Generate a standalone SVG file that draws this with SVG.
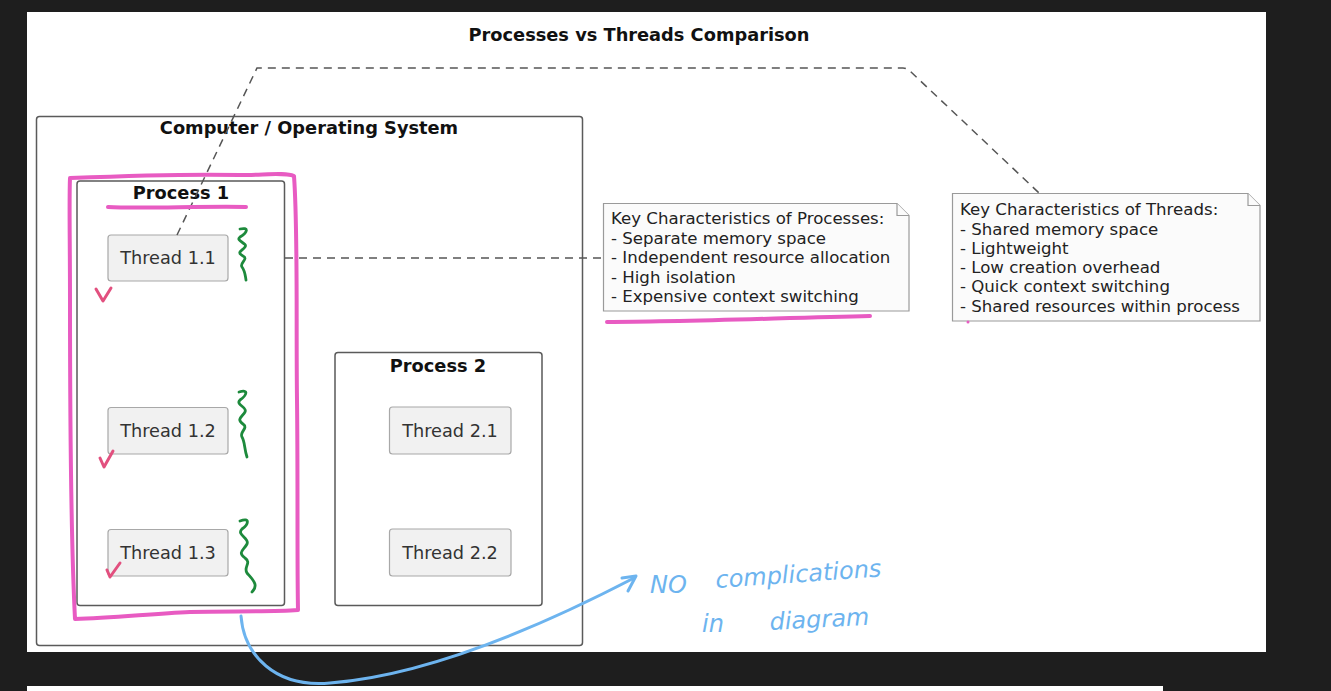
<svg xmlns="http://www.w3.org/2000/svg" width="1331" height="691" viewBox="0 0 1331 691">
<style>
.lbl{font-family:"DejaVu Sans",sans-serif;fill:#111;font-weight:bold;text-anchor:middle;font-size:17.8px}
.box{fill:none;stroke:#5a5a5a;stroke-width:1.5}
.thr{fill:#f1f1f1;stroke:#a8a8a8;stroke-width:1.2}
.ttxt{font-family:"DejaVu Sans",sans-serif;font-size:17.7px;fill:#333;text-anchor:middle}
.note{fill:#fbfbfb;stroke:#9a9a9a;stroke-width:1.2}
.ntxt{font-family:"DejaVu Sans",sans-serif;font-size:16.6px;fill:#222}
.dash{fill:none;stroke:#555;stroke-width:1.5;stroke-dasharray:8 6}
.pink{fill:none;stroke:#e85bc2;stroke-width:4;stroke-linecap:round;stroke-linejoin:round}
.chk{fill:none;stroke:#e2507f;stroke-width:3;stroke-linecap:round;stroke-linejoin:round}
.grn{fill:none;stroke:#1d8a3c;stroke-width:2.8;stroke-linecap:round;stroke-linejoin:round}
.blue{fill:none;stroke:#6db4ef;stroke-width:3;stroke-linecap:round;stroke-linejoin:round}
.hand{font-family:"DejaVu Sans",sans-serif;font-style:italic;fill:#6db4ef;font-size:24px}
</style>
<rect x="0" y="0" width="1331" height="691" fill="#1e1e1e"/>
<rect x="27" y="12" width="1239" height="640" fill="#ffffff"/>
<rect x="27" y="686" width="1136" height="5" fill="#ffffff"/>

<text class="lbl" x="639" y="41">Processes vs Threads Comparison</text>

<g id="computer">
<rect class="box" x="36.5" y="116.5" width="546" height="529" rx="3"/>
<text class="lbl" x="309" y="134">Computer / Operating System</text>
</g>

<g id="process1">
<rect class="box" x="77" y="181" width="207.5" height="424.5" rx="3"/>
<text class="lbl" x="181" y="199">Process 1</text>
</g>
<g id="thread11"><rect class="thr" x="108" y="235" width="120" height="46" rx="3"/><text class="ttxt" x="168" y="264">Thread 1.1</text></g>
<g id="thread12"><rect class="thr" x="108" y="407.5" width="120" height="46.5" rx="3"/><text class="ttxt" x="168" y="437">Thread 1.2</text></g>
<g id="thread13"><rect class="thr" x="108" y="529.5" width="120" height="46.5" rx="3"/><text class="ttxt" x="168" y="559">Thread 1.3</text></g>

<g id="process2">
<rect class="box" x="335" y="352.5" width="207" height="253" rx="3"/>
<text class="lbl" x="438" y="372">Process 2</text>
</g>
<g id="thread21"><rect class="thr" x="389.5" y="407" width="121.5" height="47" rx="3"/><text class="ttxt" x="450" y="437">Thread 2.1</text></g>
<g id="thread22"><rect class="thr" x="389.5" y="529" width="121.5" height="47" rx="3"/><text class="ttxt" x="450" y="559">Thread 2.2</text></g>

<g id="noteProcesses">
<path class="note" d="M603.5,203.5 H897 L909,215.5 V311 H603.5 Z"/>
<path class="note" d="M897,203.5 V215.5 H909" fill="none"/>
<text class="ntxt" x="611" y="224">Key Characteristics of Processes:</text>
<text class="ntxt" x="611" y="243.5">- Separate memory space</text>
<text class="ntxt" x="611" y="263">- Independent resource allocation</text>
<text class="ntxt" x="611" y="282.5">- High isolation</text>
<text class="ntxt" x="611" y="302">- Expensive context switching</text>
</g>

<g id="noteThreads">
<path class="note" d="M952.5,193.5 H1248 L1260,205.5 V321 H952.5 Z"/>
<path class="note" d="M1248,193.5 V205.5 H1260" fill="none"/>
<text class="ntxt" x="960" y="215">Key Characteristics of Threads:</text>
<text class="ntxt" x="960" y="234.5">- Shared memory space</text>
<text class="ntxt" x="960" y="254">- Lightweight</text>
<text class="ntxt" x="960" y="273">- Low creation overhead</text>
<text class="ntxt" x="960" y="292">- Quick context switching</text>
<text class="ntxt" x="960" y="311.5">- Shared resources within process</text>
</g>

<g id="connectors">
<path class="dash" d="M285,258 H603"/>
<path class="dash" d="M177,235 L257,68 H903 Q907,68 910,71 L1039,193"/>
</g>

<g id="annotations">
<path class="pink" d="M70,178 C120,176 200,174 240,175 C265,175 285,172 294,176 C298,230 296,320 297,400 C298,480 297,560 298,610 C270,612 230,611 190,612 C150,614 110,618 75,619 C71,540 70,420 70,300 C70,240 69,200 70,178"/>
<path class="pink" d="M108,207 C140,209 200,206 246,207"/>
<path class="pink" d="M607,322 C680,322 780,318 870,316"/>
<circle cx="968" cy="322" r="1.5" fill="#e85bc2"/>
<path class="chk" d="M96,289 L103,301 L111,288"/>
<path class="chk" d="M100,458 L104,467 L113,451"/>
<path class="chk" d="M107,570 L110,577 L120,563"/>
<path class="grn" d="M240,229 C249,227 248,232 240,237 C235,241 248,243 245,247 C242,251 236,252 243,256 C249,259 239,263 242,267 C245,271 245,274 246,280"/>
<path class="grn" d="M239,392 C249,389 247,395 240,400 C235,405 248,407 245,412 C242,417 236,419 243,424 C249,428 239,432 242,437 C245,442 244,448 247,457"/>
<path class="grn" d="M240,521 C250,517 249,524 242,529 C236,535 250,538 247,544 C244,550 237,552 245,558 C252,563 243,567 247,573 C253,580 259,585 252,592"/>
<path class="blue" d="M241,616 C244,655 275,688 330,683 C420,676 530,632 634,578"/>
<path class="blue" d="M622,578 L636,576 L628,591"/>
<text class="hand" x="650" y="593" font-size="20">NO</text>
<text class="hand" x="716" y="588" transform="rotate(-4 716 588)">complications</text>
<text class="hand" x="702" y="632">in</text>
<text class="hand" x="770" y="630" transform="rotate(-3 770 630)">diagram</text>
</g>
</svg>
